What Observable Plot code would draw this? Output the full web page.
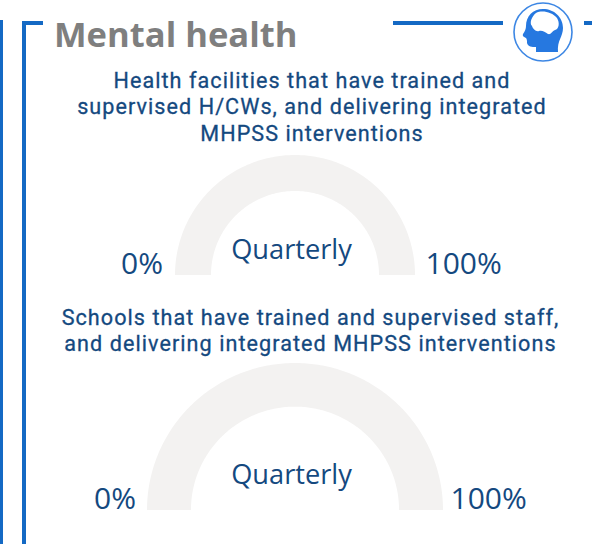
<!DOCTYPE html>
<html><head><meta charset="utf-8">
<script src="https://cdn.jsdelivr.net/npm/d3@7"></script>
<script src="https://cdn.jsdelivr.net/npm/@observablehq/plot@0.6"></script>
<style>
html,body{margin:0;padding:0;background:#fff;overflow:hidden}
#page{position:relative;width:592px;height:544px;overflow:hidden}
.bar{position:absolute;background:#1469c4}
.t{position:absolute;white-space:nowrap;margin:0}
#title{left:54px;top:10px;font:700 34.6px/48px "Open Sans",sans-serif;color:#7f7f7f}
.sub{font:400 21.6px/26.5px Roboto,sans-serif;color:#14497f;text-align:center;letter-spacing:1.05px;-webkit-text-stroke:.3px #14497f}
.g{position:absolute;left:0}
.g svg{display:block;overflow:visible}
</style></head><body><div id="page">
<div class="bar" style="left:0;top:20px;width:3px;height:524px"></div>
<div class="bar" style="left:22px;top:21px;width:4px;height:523px"></div>
<div class="bar" style="left:22px;top:21px;width:21px;height:4px"></div>
<div class="bar" style="left:393px;top:21px;width:110px;height:4px"></div>
<div class="bar" style="left:584px;top:21px;width:8px;height:4px"></div>
<h1 class="t" id="title"></h1>
<svg style="position:absolute;left:512px;top:1px" width="62" height="62" viewBox="0 0 62 62">
<circle cx="31" cy="31" r="29" fill="#fff" stroke="#3d87e4" stroke-width="1.6"/>
<path fill="#2678e0" d="M31 8C42 8 51 16 51 27C51 36 45 39 46 51L24 51L24 46C20 46 16 46 15 42C15 40 15 38 14 37C13 36 10 36 11 33C13 30 14 28 14 25C14 15 21 8 31 8Z"/>
<path fill="#fff" d="M24 12C30 9 40 11 45 17C48 22 47 28 43 29C40 30 39 34 36 33C33 31 30 29 27 30C24 31 21 28 20 25C17 22 20 15 24 12Z"/>
</svg>
<div id="sub1" class="t sub" style="left:62px;width:500px;top:67.5px"></div>
<div id="g1" class="g"></div>
<div id="sub2" class="t sub" style="left:60.5px;width:500px;top:304.5px"></div>
<div id="g2" class="g"></div>
</div>
<script>
const titleText = "Mental health";
const subtitle1 = ["Health facilities that have trained and","supervised H/CWs, and delivering integrated","MHPSS interventions"];
const subtitle2 = ["Schools that have trained and supervised staff,","and delivering integrated MHPSS interventions"];
const gaugeMin = 0, gaugeMax = 100;
const gaugeLabels = ["0%","100%"];
const periodLabel = "Quarterly";
const trackColor = "#f3f2f1", textColor = "#14497f";

document.getElementById("title").textContent = titleText;
document.getElementById("sub1").innerHTML = subtitle1.join("<br>");
document.getElementById("sub2").innerHTML = subtitle2.join("<br>");

function gauge(id, top, height, o){
  const el = document.getElementById(id);
  el.style.top = top + "px";
  const steps = d3.range(gaugeMin, gaugeMax + 0.5, 0.5);
  const ang = v => Math.PI * (1 - (v - gaugeMin) / (gaugeMax - gaugeMin));
  const font = {fontFamily:'"Open Sans",sans-serif', fill:textColor, lineAnchor:"bottom"};
  const chart = Plot.plot({
    width:592, height, margin:0, axis:null,
    x:{domain:[-1,1], range:[o.left,o.right]},
    y:{domain:[0,1], range:[o.base-top,o.apex-top]},
    marks:[
      Plot.area(steps,{
        x1:v=>Math.cos(ang(v)), y1:v=>Math.sin(ang(v)),
        x2:v=>o.inner*Math.cos(ang(v)), y2:v=>o.inner*Math.sin(ang(v)),
        fill:trackColor, curve:"linear"
      }),
      Plot.text([gaugeLabels[0]],{x:[-1],y:[0],text:d=>d,textAnchor:"end",dx:o.dl,dy:o.dy,fontSize:30,...font}),
      Plot.text([gaugeLabels[1]],{x:[1],y:[0],text:d=>d,textAnchor:"start",dx:o.dr,dy:o.dy,fontSize:30,...font}),
      Plot.text([periodLabel],{x:[0],y:[0],text:d=>d,textAnchor:"middle",dx:-4,dy:o.dq,fontSize:27.2,...font})
    ]
  });
  el.appendChild(chart);
}
gauge("g1",145,140,{left:175,right:415,base:275,apex:155,inner:0.7,dl:-12.5,dr:10,dy:-2,dq:-17});
gauge("g2",355,165,{left:147,right:443,base:510,apex:363,inner:0.703,dl:-11.5,dr:7,dy:-2,dq:-27});
</script></body></html>
